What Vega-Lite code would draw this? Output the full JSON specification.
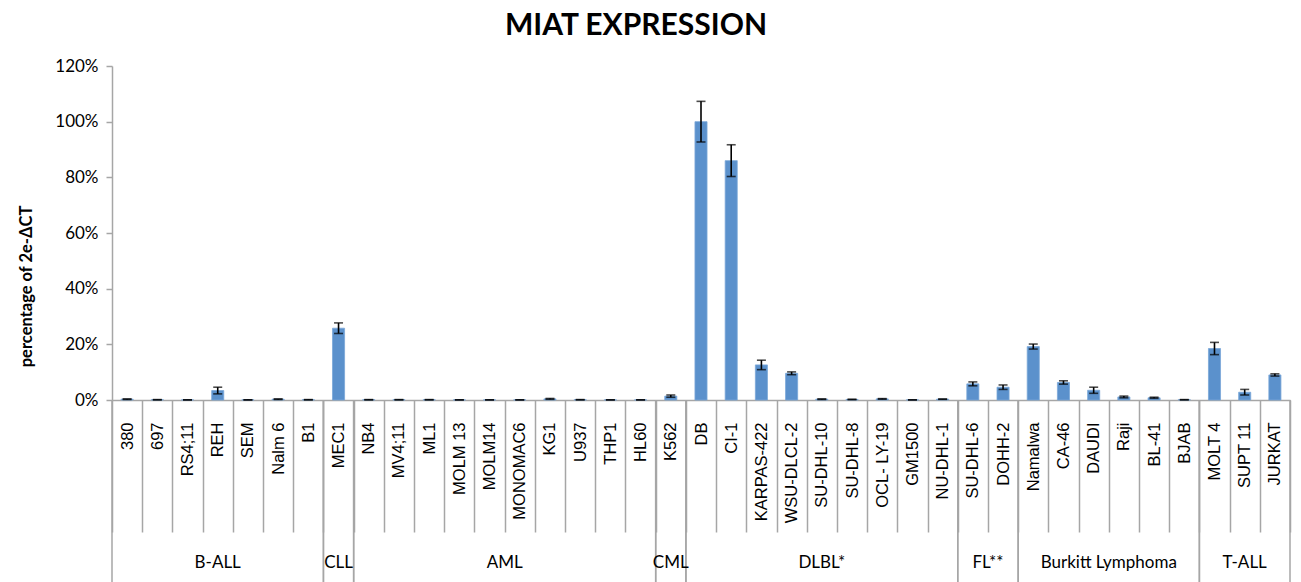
{
  "$schema": "https://vega.github.io/schema/vega-lite/v6.json",
  "autosize": "none",
  "width": 1178,
  "height": 334,
  "padding": {"left": 112, "top": 66, "right": 11, "bottom": 182},
  "background": "white",
  "title": {
    "text": "MIAT EXPRESSION",
    "font": "Lato",
    "fontSize": 30,
    "fontWeight": "bold",
    "color": "#000000",
    "anchor": "middle",
    "dx": -65,
    "offset": 16
  },
  "config": {
    "view": {"stroke": null},
    "axis": {"labelColor": "#000000", "titleColor": "#000000"},
    "axisY": {
      "titleFont": "Lato",
      "titleFontSize": 16.5,
      "titleFontWeight": "bold",
      "titlePadding": 20,
      "titleY": 220
    }
  },
  "datasets": {
    "cells": [
      {"cell": "380", "group": "B-ALL", "value": 0.3, "err": 0.1},
      {"cell": "697", "group": "B-ALL", "value": 0.1, "err": 0.05},
      {"cell": "RS4;11", "group": "B-ALL", "value": 0.05, "err": 0.02},
      {"cell": "REH", "group": "B-ALL", "value": 3.4, "err": 1.2},
      {"cell": "SEM", "group": "B-ALL", "value": 0.05, "err": 0.02},
      {"cell": "Nalm 6", "group": "B-ALL", "value": 0.3, "err": 0.1},
      {"cell": "B1", "group": "B-ALL", "value": 0.1, "err": 0.05},
      {"cell": "MEC1", "group": "CLL", "value": 25.8, "err": 1.9},
      {"cell": "NB4", "group": "AML", "value": 0.1, "err": 0.05},
      {"cell": "MV4;11", "group": "AML", "value": 0.1, "err": 0.05},
      {"cell": "ML1", "group": "AML", "value": 0.1, "err": 0.05},
      {"cell": "MOLM 13", "group": "AML", "value": 0.05, "err": 0.02},
      {"cell": "MOLM14", "group": "AML", "value": 0.05, "err": 0.02},
      {"cell": "MONOMAC6", "group": "AML", "value": 0.05, "err": 0.02},
      {"cell": "KG1", "group": "AML", "value": 0.4, "err": 0.15},
      {"cell": "U937", "group": "AML", "value": 0.1, "err": 0.05},
      {"cell": "THP1", "group": "AML", "value": 0.05, "err": 0.02},
      {"cell": "HL60", "group": "AML", "value": 0.05, "err": 0.02},
      {"cell": "K562", "group": "CML", "value": 1.4, "err": 0.4},
      {"cell": "DB", "group": "DLBL*", "value": 100, "err": 7.3},
      {"cell": "CI-1", "group": "DLBL*", "value": 86, "err": 5.7},
      {"cell": "KARPAS-422", "group": "DLBL*", "value": 12.6, "err": 1.7},
      {"cell": "WSU-DLCL-2", "group": "DLBL*", "value": 9.6, "err": 0.5},
      {"cell": "SU-DHL-10", "group": "DLBL*", "value": 0.3, "err": 0.1},
      {"cell": "SU-DHL-8", "group": "DLBL*", "value": 0.2, "err": 0.05},
      {"cell": "OCL- LY-19", "group": "DLBL*", "value": 0.4, "err": 0.1},
      {"cell": "GM1500", "group": "DLBL*", "value": 0.05, "err": 0.02},
      {"cell": "NU-DHL-1", "group": "DLBL*", "value": 0.3, "err": 0.05},
      {"cell": "SU-DHL-6", "group": "FL**", "value": 5.8, "err": 0.7},
      {"cell": "DOHH-2", "group": "FL**", "value": 4.6, "err": 0.8},
      {"cell": "Namalwa", "group": "Burkitt Lymphoma", "value": 19.2, "err": 0.9},
      {"cell": "CA-46", "group": "Burkitt Lymphoma", "value": 6.3, "err": 0.6},
      {"cell": "DAUDI", "group": "Burkitt Lymphoma", "value": 3.5, "err": 1.1},
      {"cell": "Raji", "group": "Burkitt Lymphoma", "value": 1.1, "err": 0.3},
      {"cell": "BL-41", "group": "Burkitt Lymphoma", "value": 0.8, "err": 0.2},
      {"cell": "BJAB", "group": "Burkitt Lymphoma", "value": 0.1, "err": 0.05},
      {"cell": "MOLT 4", "group": "T-ALL", "value": 18.5, "err": 2.2},
      {"cell": "SUPT 11", "group": "T-ALL", "value": 2.8, "err": 1.0},
      {"cell": "JURKAT", "group": "T-ALL", "value": 9.0, "err": 0.4}
    ],
    "groups": [
      {"group": "B-ALL", "first": "380", "last": "B1", "mid": "REH", "midAt": "center"},
      {"group": "CLL", "first": "MEC1", "last": "MEC1", "mid": "MEC1", "midAt": "center"},
      {"group": "AML", "first": "NB4", "last": "HL60", "mid": "MONOMAC6", "midAt": "edge"},
      {"group": "CML", "first": "K562", "last": "K562", "mid": "K562", "midAt": "center"},
      {"group": "DLBL*", "first": "DB", "last": "NU-DHL-1", "mid": "SU-DHL-10", "midAt": "center"},
      {"group": "FL**", "first": "SU-DHL-6", "last": "DOHH-2", "mid": "DOHH-2", "midAt": "edge"},
      {"group": "Burkitt Lymphoma", "first": "Namalwa", "last": "BJAB", "mid": "Raji", "midAt": "edge"},
      {"group": "T-ALL", "first": "MOLT 4", "last": "JURKAT", "mid": "SUPT 11", "midAt": "center"}
    ]
  },
  "layer": [
    {
      "data": {"name": "cells"},
      "mark": {"type": "bar", "width": {"band": 0.4}, "color": "#5b91cc", "stroke": "#7aa7d8", "strokeWidth": 0.8},
      "encoding": {
        "x": {
          "field": "cell",
          "type": "nominal",
          "sort": null,
          "scale": {
            "domain": ["380", "697", "RS4;11", "REH", "SEM", "Nalm 6", "B1", "MEC1", "NB4", "MV4;11", "ML1", "MOLM 13", "MOLM14", "MONOMAC6", "KG1", "U937", "THP1", "HL60", "K562", "DB", "CI-1", "KARPAS-422", "WSU-DLCL-2", "SU-DHL-10", "SU-DHL-8", "OCL- LY-19", "GM1500", "NU-DHL-1", "SU-DHL-6", "DOHH-2", "Namalwa", "CA-46", "DAUDI", "Raji", "BL-41", "BJAB", "MOLT 4", "SUPT 11", "JURKAT"],
            "paddingInner": 0,
            "paddingOuter": 0
          },
          "axis": {
            "title": null,
            "tickBand": "extent",
            "tickSize": 132,
            "tickColor": "#a6a6a6",
            "tickWidth": 1.5,
            "domainColor": "#a6a6a6",
            "domainWidth": 1.5,
            "labelAngle": -90,
            "labelAlign": "right",
            "labelBaseline": "middle",
            "labelPadding": -110,
            "labelFont": "Liberation Sans",
            "labelFontSize": 16.5,
            "labelOverlap": false,
            "labelBound": false,
            "labelFlush": false
          }
        },
        "y": {
          "field": "value",
          "type": "quantitative",
          "title": "percentage of 2e-ΔCT",
          "scale": {"domain": [0, 120], "nice": false},
          "axis": {
            "values": [0, 20, 40, 60, 80, 100, 120],
            "labelExpr": "datum.value + '%'",
            "labelFont": "Lato",
            "labelFontSize": 17,
            "labelPadding": 8,
            "tickSize": 6,
            "tickColor": "#a6a6a6",
            "tickWidth": 1.5,
            "domainColor": "#a6a6a6",
            "domainWidth": 1.5,
            "grid": false
          }
        }
      }
    },
    {
      "data": {"name": "cells"},
      "mark": {"type": "errorbar", "ticks": {"size": 9, "thickness": 1.6}, "thickness": 1.6, "color": "#000000"},
      "encoding": {
        "x": {"field": "cell", "type": "nominal"},
        "y": {"field": "value", "type": "quantitative", "title": "percentage of 2e-ΔCT"},
        "yError": {"field": "err"}
      }
    },
    {
      "data": {"name": "groups"},
      "mark": {"type": "rule", "color": "#a6a6a6", "strokeWidth": 1.5},
      "encoding": {
        "x": {"field": "first", "type": "nominal", "bandPosition": 0},
        "y": {"datum": 0},
        "y2": {"datum": -66}
      }
    },
    {
      "data": {"name": "groups"},
      "mark": {"type": "rule", "color": "#a6a6a6", "strokeWidth": 1.5},
      "encoding": {
        "x": {"field": "last", "type": "nominal", "bandPosition": 1},
        "y": {"datum": 0},
        "y2": {"datum": -66}
      }
    },
    {
      "data": {"name": "groups"},
      "transform": [{"filter": "datum.midAt === 'center'"}],
      "mark": {"type": "text", "font": "Lato", "fontSize": 17, "color": "#000000", "baseline": "middle", "align": "center"},
      "encoding": {
        "x": {"field": "mid", "type": "nominal", "bandPosition": 0.5},
        "y": {"datum": -58.6},
        "text": {"field": "group"}
      }
    },
    {
      "data": {"name": "groups"},
      "transform": [{"filter": "datum.midAt === 'edge'"}],
      "mark": {"type": "text", "font": "Lato", "fontSize": 17, "color": "#000000", "baseline": "middle", "align": "center"},
      "encoding": {
        "x": {"field": "mid", "type": "nominal", "bandPosition": 0},
        "y": {"datum": -58.6},
        "text": {"field": "group"}
      }
    }
  ]
}
